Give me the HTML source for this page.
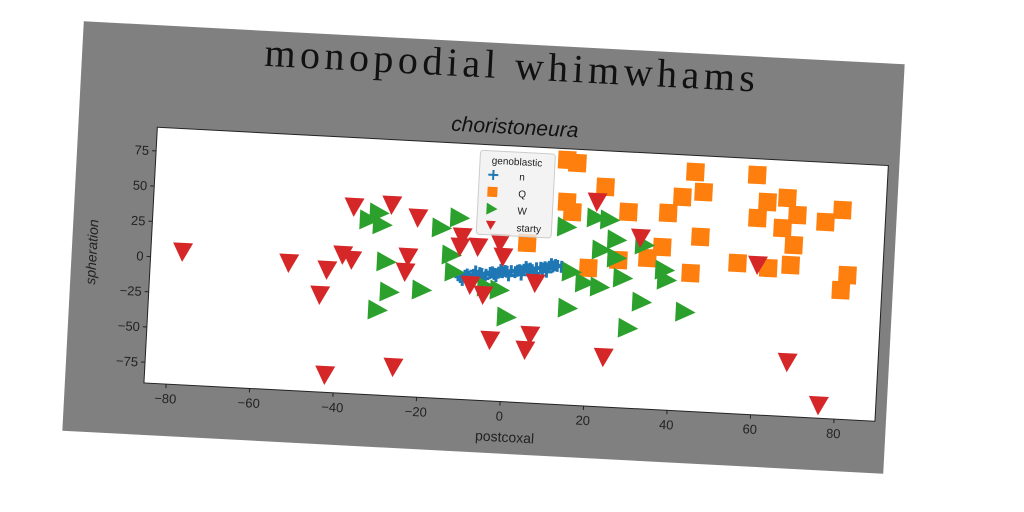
<!DOCTYPE html>
<html><head><meta charset="utf-8"><style>
html,body{margin:0;padding:0;background:#fff;}
svg{display:block;}
</style></head><body>
<svg id="chart" width="1024" height="512" viewBox="0 0 1024 512" xmlns="http://www.w3.org/2000/svg">
<rect width="1024" height="512" fill="#ffffff"/>
<g id="fig" transform="rotate(3 483.5 247.5) translate(72.5 42.5)">
<rect x="0" y="0" width="822" height="410" fill="#808080"/>
<text x="430" y="35" text-anchor="middle" font-family="'Liberation Serif', serif" font-size="40" letter-spacing="4.5" fill="#111">monopodial whimwhams</text>
<text x="436" y="90" text-anchor="middle" font-family="'Liberation Sans', sans-serif" font-style="italic" font-size="21" fill="#111">choristoneura</text>
<g id="axes" transform="translate(79 102)">
<rect x="0" y="0" width="732" height="256" fill="#ffffff"/>
<g id="marks"></g>
<rect x="0" y="0" width="732" height="256" fill="none" stroke="#222" stroke-width="1"/>
<g id="ticks"></g>
<g id="legend" transform="translate(324 6)">
<rect x="0" y="0" width="75" height="84" rx="3" fill="#f0f0f0" fill-opacity="0.8" stroke="#ccc"/>
<text x="37" y="13" text-anchor="middle" font-family="'Liberation Sans', sans-serif" font-size="10" fill="#222">genoblastic</text>
<g><path d="M14 19v10M9 24h10" stroke="#1f77b4" stroke-width="2"/><text x="40" y="28" font-family="'Liberation Sans', sans-serif" font-size="10" fill="#222">n</text></g>
<g><rect x="9" y="36" width="10" height="10" fill="#ff7f0e"/><text x="40" y="45" font-family="'Liberation Sans', sans-serif" font-size="10" fill="#222">Q</text></g>
<g><path d="M9 52L20 58L9 64Z" fill="#2ca02c"/><text x="40" y="62" font-family="'Liberation Sans', sans-serif" font-size="10" fill="#222">W</text></g>
<g><path d="M9 70L19 70L14 79Z" fill="#d62728"/><text x="40" y="79" font-family="'Liberation Sans', sans-serif" font-size="10" fill="#222">starty</text></g>
</g>
</g>
<text x="442" y="398" text-anchor="middle" font-family="'Liberation Sans', sans-serif" font-size="14" fill="#222">postcoxal</text>
<text transform="translate(25 230) rotate(-90)" text-anchor="middle" font-family="'Liberation Sans', sans-serif" font-style="italic" font-size="14" fill="#222">spheration</text>
</g>
</svg>
<script>
const xTicks = [-80, -60, -40, -20, 0, 20, 40, 60, 80];
const yTicks = [-75, -50, -25, 0, 25, 50, 75];
const nX = [-11,-10,-9,-8,-7,-6,-5,-4,-3,-2,-1,0,1,2,3,4,5,6,7,8,9,10,11,12,-9.5,-6.5,-3.5,-0.5,2.5,5.5,8.5,11.5,-10.5,-8.5,-5.5,-2.5,0.5,3.5,6.5,9.5,13,-7.5,-1.5,4.5,10.5];
const nY = [-3,-2,-2.5,-1,-1.5,0,-0.5,1,0.5,1.5,2,2.5,3,2.5,4,4.5,5,4.5,6,6.5,7,7.5,8,8.5,-1,0.5,1.5,3,3.5,5.5,6,9,-5,-4,-3,-1,0,1,2.5,4,8,1.5,3.5,6.5,9.5];
const qX = [13,15.5,22.5,13.5,14.9,28.3,37.8,41,43.8,46,45.8,36.8,33.4,26.5,19.4,43.9,58.6,61.4,66.1,68.7,59.2,65.3,68.2,75.5,79.4,55,62.4,67.7,81.4,80,4.5];
const qY = [83.9,82.1,66.2,54.1,47.2,49.3,50.1,61.9,80.1,66.2,34.3,25.7,17.4,14.9,8.2,8.3,80.3,61.5,65.1,53.4,49.8,43.6,32,49.5,58.6,17.2,14.8,17.7,12.7,1.8,23.6];
const wX = [-33.4,-31.1,-30.2,-28.8,-27.7,-30.3,-11.8,-16,-13.3,-12.4,-20,-4.5,-1.4,0.6,13.9,15.6,15.1,20.9,24.1,26,22.5,26.2,18.9,22.5,27.9,37.8,38.4,32.7,43.2,29.7,32.7];
const wY = [34.1,39.4,31.1,5,-16.2,-29.4,38.9,31.1,12.3,0.3,-13.6,-9.1,-10.7,-29.6,36.4,4.7,-21,43.9,43,29.1,21.4,16.3,-2.6,-4.9,2.3,9.5,2.5,-14,-19.5,-33,26.5];
const sX = [-77.7,-52.2,-43,-44.4,-39.4,-37.2,-37.3,-28.3,-26,-42.2,-21.9,-23.8,-24.3,-11.1,-11.5,-7.2,-2,-1.1,-8.6,-5.4,6.9,-3.2,6.3,5.3,20.7,31.5,24.1,59.8,68.1,76.1];
const sY = [4.5,0.6,-2.9,-20.9,8.3,5.1,42.7,45.5,-69.3,-77.4,37.3,9.2,-1.5,25.5,18.3,18.9,22.6,12.8,-8.3,-14.9,-4.5,-46.6,-41.6,-52.3,55.2,31.3,-54.5,16.5,-51.2,-80.6];

const W = 732, H = 256, X0 = -85.3, X1 = 89.8, Y0 = -89.7, Y1 = 91.8;
function xs(v){ return (v - X0) / (X1 - X0) * W; }
function ys(v){ return H - (v - Y0) / (Y1 - Y0) * H; }
const NS = 'http://www.w3.org/2000/svg';
const marks = document.getElementById('marks');
const ticks = document.getElementById('ticks');
function mk(tag, attrs, parent){ const e = document.createElementNS(NS, tag); for (const k in attrs) e.setAttribute(k, attrs[k]); parent.appendChild(e); return e; }

xTicks.forEach(function(t){
  const g = mk('g', {}, ticks);
  
  
  const x = xs(t);
  mk('line', {x1:x, x2:x, y1:H, y2:H+4, stroke:'#222'}, g);
  const tx = mk('text', {x:x, y:H+19, 'text-anchor':'middle', 'font-family':"'Liberation Sans', sans-serif", 'font-size':'13', fill:'#222'}, g);
  tx.textContent = t < 0 ? '\u2212' + Math.abs(t) : String(t);
});
yTicks.forEach(function(t){
  const g = mk('g', {}, ticks);
  
  
  const y = ys(t);
  mk('line', {x1:-4, x2:0, y1:y, y2:y, stroke:'#222'}, g);
  const tx = mk('text', {x:-7, y:y+4.5, 'text-anchor':'end', 'font-family':"'Liberation Sans', sans-serif", 'font-size':'13', fill:'#222'}, g);
  tx.textContent = t < 0 ? '\u2212' + Math.abs(t) : String(t);
});

nX.forEach(function(v, i){
  const x = xs(v), y = ys(nY[i]);
  const p = mk('path', {d:'M'+(x-6)+' '+y+'h12M'+x+' '+(y-6)+'v12', stroke:'#1f77b4', 'stroke-width':'3'}, marks);
  
  
});
qX.forEach(function(v, i){
  const x = xs(v), y = ys(qY[i]);
  const r = mk('rect', {x:x-9, y:y-9, width:18, height:18, fill:'#ff7f0e'}, marks);
  
  
});
wX.forEach(function(v, i){
  const x = xs(v), y = ys(wY[i]);
  const p = mk('path', {d:'M'+(x-10)+' '+(y-10)+'L'+(x+10)+' '+y+'L'+(x-10)+' '+(y+10)+'Z', fill:'#2ca02c'}, marks);
  
  
});
sX.forEach(function(v, i){
  const x = xs(v), y = ys(sY[i]);
  const p = mk('path', {d:'M'+(x-10)+' '+(y-9)+'L'+(x+10)+' '+(y-9)+'L'+x+' '+(y+10)+'Z', fill:'#d62728'}, marks);
  
  
});
</script>
</body></html>
